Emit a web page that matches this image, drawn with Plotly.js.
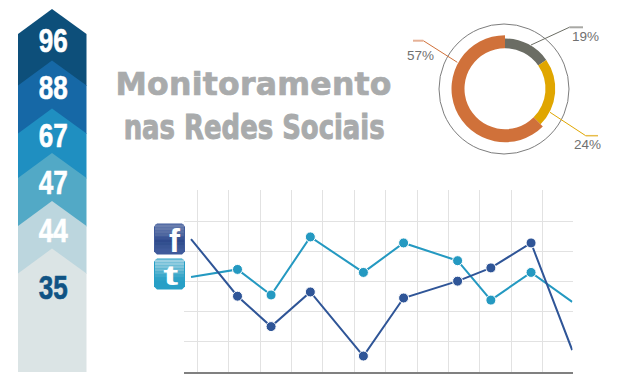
<!DOCTYPE html>
<html><head><meta charset="utf-8">
<script src="https://cdn.plot.ly/plotly-3.0.1.min.js"></script>
<style>html,body{margin:0;padding:0;background:#fff}#c{width:618px;height:386px}</style>
</head><body><div id="c"></div>
<script>
var stepValues = [96, 88, 67, 47, 44, 35];
var stepColors = ['#0d4f7a', '#1668a6', '#1f8fc1', '#52a9c6', '#bcd6de', '#dbe4e5'];
var stepTextColors = ['#fff', '#fff', '#fff', '#fff', '#fff', '#0f5384'];
var stepApex = [9, 60.5, 108.5, 153, 201, 248.5];
var stepTextY = [40, 87, 135, 182, 230, 287];

var donutLabels = ['19%', '24%', '57%'];
var donutDrawn = [15.3, 22.2, 62.5];
var donutThinColors = ['#6b6d64', '#e0a600', 'rgba(0,0,0,0)'];
var donutWideColors = ['rgba(0,0,0,0)', 'rgba(0,0,0,0)', '#d0713a'];

var xFacebook = [-0.2, 1.28, 2.35, 3.6, 5.29, 6.57, 8.29, 9.35, 10.63, 11.94];
var facebook = [4.42, 2.52, 1.51, 2.66, 0.53, 2.46, 3.02, 3.46, 4.29, 0.73];
var xTwitter = [-0.2, 1.28, 2.35, 3.6, 5.29, 6.57, 8.29, 9.35, 10.63, 11.94];
var twitter = [3.16, 3.41, 2.56, 4.49, 3.31, 4.29, 3.70, 2.39, 3.31, 2.33];

var W = 618, H = 386;
function px(x){return x/W;}
function py(y){return 1-y/H;}
function midSizes(a){return a.map(function(_,i){return (i===0||i===a.length-1)?0:10;});}
function P(x,y){return px(x)+','+py(y);}

var shapes = [], ann = [];
stepValues.forEach(function(v,i){
  var a = stepApex[i];
  var bottom = i < stepValues.length-1 ? stepApex[i+1]+25.5 : 372;
  shapes.push({type:'path',xref:'paper',yref:'paper',layer:'below',line:{width:0},fillcolor:stepColors[i],
    path:'M'+P(18,a+25)+' L'+P(52,a)+' L'+P(86.5,a+25)+' L'+P(86.5,bottom)+' L'+P(18,bottom)+' Z'});
  ann.push({xref:'paper',yref:'paper',x:px(53.3),y:py(stepTextY[i]),text:String(v),showarrow:false,
    xanchor:'center',yanchor:'middle',font:{family:'Liberation Sans',size:33,color:stepTextColors[i],weight:700}});
});

function seg(c,w,x0,y0,x1,y1){shapes.push({type:'line',xref:'paper',yref:'paper',x0:px(x0),y0:py(y0),x1:px(x1),y1:py(y1),line:{color:c,width:w}});}
shapes.push({type:'circle',xref:'paper',yref:'paper',x0:px(439),x1:px(569),y0:py(154),y1:py(24),line:{color:'#7d7d7d',width:1}});
seg('#6b6d64',1,531,45,569.3,27.3); seg('#a8a8a4',2,569.3,27.3,583,27.3);
seg('#d0713a',1,457.3,62.3,423.3,40.7); seg('#e6b196',2,423.3,40.7,413,40.7);
seg('#e0a600',1,550,112.3,585.7,135.7); seg('#e8bd4a',1.5,585.7,135.7,598,135.7);
[[585,36,0],[587.5,144,1],[420,55,2]].forEach(function(d){
  ann.push({xref:'paper',yref:'paper',x:px(d[0]),y:py(d[1]),text:donutLabels[d[2]],showarrow:false,xanchor:'center',yanchor:'middle',
    font:{family:'Liberation Sans',size:13.5,color:'#707070'}});
});

var titleLine1 = 'Monitoramento', titleLine2 = 'nas Redes Sociais';
ann.push({xref:'paper',yref:'paper',x:px(253),y:py(84),text:titleLine1,showarrow:false,xanchor:'center',yanchor:'middle',
  font:{family:'DejaVu Sans',size:31.5,color:'#a9abac',weight:700}});
ann.push({xref:'paper',yref:'paper',x:px(253.5),y:py(127),text:titleLine2,showarrow:false,xanchor:'center',yanchor:'middle',
  font:{family:'DejaVu Sans',size:33,color:'#a9abac',weight:700}});

function rr(x0,y0,x1,y1,r){
  return 'M'+P(x0+r,y0)+' L'+P(x1-r,y0)+' L'+P(x1,y0+r)+' L'+P(x1,y1-r)+' L'+P(x1-r,y1)+' L'+P(x0+r,y1)+' L'+P(x0,y1-r)+' L'+P(x0,y0+r)+' Z';
}
function icon(y0,base,bands,glyph,gx,gy,fs){
  shapes.push({type:'path',xref:'paper',yref:'paper',line:{width:0},fillcolor:base,path:rr(154,y0,185,y0+31,3)});
  bands.forEach(function(c,i){
    shapes.push({type:'rect',xref:'paper',yref:'paper',line:{width:0},fillcolor:c,x0:px(155),x1:px(184),y0:py(y0+1+i*3),y1:py(y0+4+i*3)});
  });
  ann.push({xref:'paper',yref:'paper',x:px(gx),y:py(gy),text:glyph,showarrow:false,xanchor:'center',yanchor:'middle',
    font:{family:'Liberation Sans',size:fs,color:'#fff',weight:700}});
}
icon(223.5,'#3f5a9b',['#6a7eae','#6378aa','#5a70a5','#50689f','#3a5494','#2f4a8c','#32508f','#3a5695'],'f',175,240,33);
icon(258.5,'#279fc6',['#9bd0e2','#8ecbdf','#7fc4da','#6dbcd5','#55b2cf','#3ea8ca','#2ea2c7'],'t',170.5,275,28);

var data = [
 {type:'pie',values:donutDrawn,labels:donutLabels,sort:false,direction:'clockwise',rotation:0,hole:0.805,
  marker:{colors:donutThinColors,line:{width:0}},textinfo:'none',showlegend:false,automargin:false,
  domain:{x:[px(454.7),px(555.3)],y:[py(139),py(38.4)]}},
 {type:'pie',values:donutDrawn,labels:donutLabels,sort:false,direction:'clockwise',rotation:0,hole:0.757,
  marker:{colors:donutWideColors,line:{width:0}},textinfo:'none',showlegend:false,automargin:false,
  domain:{x:[px(451.5),px(558.5)],y:[py(142.2),py(35.2)]}},
 {type:'scatter',mode:'lines+markers',x:xTwitter,y:twitter,xaxis:'x',yaxis:'y',line:{color:'#2499c1',width:2},
  marker:{color:'#2499c1',size:midSizes(twitter),opacity:1},cliponaxis:false,showlegend:false},
 {type:'scatter',mode:'lines+markers',x:xFacebook,y:facebook,xaxis:'x',yaxis:'y',line:{color:'#2f5597',width:2},
  marker:{color:'#2f5597',size:midSizes(facebook),opacity:1},cliponaxis:false,showlegend:false}
];
var layout = {
  width:W,height:H,margin:{l:0,r:0,t:0,b:0},paper_bgcolor:'#fff',plot_bgcolor:'#fff',showlegend:false,hovermode:false,
  xaxis:{domain:[px(184),px(572.5)],range:[-0.424,11.95],tickmode:'array',tickvals:[0,1,2,3,4,5,6,7,8,9,10,11],showticklabels:false,ticks:'',
    showgrid:true,gridcolor:'#e2e2e2',gridwidth:1,zeroline:false,showline:true,linecolor:'#808080',linewidth:2},
  yaxis:{domain:[py(372),py(190)],range:[0,6.05],tickmode:'array',tickvals:[1,2,3,4,5],showticklabels:false,ticks:'',
    showgrid:true,gridcolor:'#e2e2e2',gridwidth:1,zeroline:false,showline:false},
  shapes:shapes,annotations:ann
};
Plotly.newPlot('c',data,layout,{displayModeBar:false,staticPlot:true}).then(function(){
  document.querySelectorAll('#c text.annotation-text').forEach(function(t){
    var s = t.textContent;
    if(/^\d\d$/.test(s)){
      t.setAttribute('textLength','29'); t.setAttribute('lengthAdjust','spacingAndGlyphs');
      t.style.stroke = t.style.fill; t.style.strokeWidth = '0.6px';
    } else if(s === titleLine1){
      t.setAttribute('textLength','276'); t.setAttribute('lengthAdjust','spacing');
      t.style.stroke = '#a9abac'; t.style.strokeWidth = '0.7px';
    } else if(s === titleLine2){
      t.setAttribute('textLength','261'); t.setAttribute('lengthAdjust','spacingAndGlyphs');
      t.style.stroke = '#a9abac'; t.style.strokeWidth = '1px';
    } else if(s === 't'){
      t.setAttribute('textLength','15'); t.setAttribute('lengthAdjust','spacingAndGlyphs');
    }
  });
});
</script></body></html>
